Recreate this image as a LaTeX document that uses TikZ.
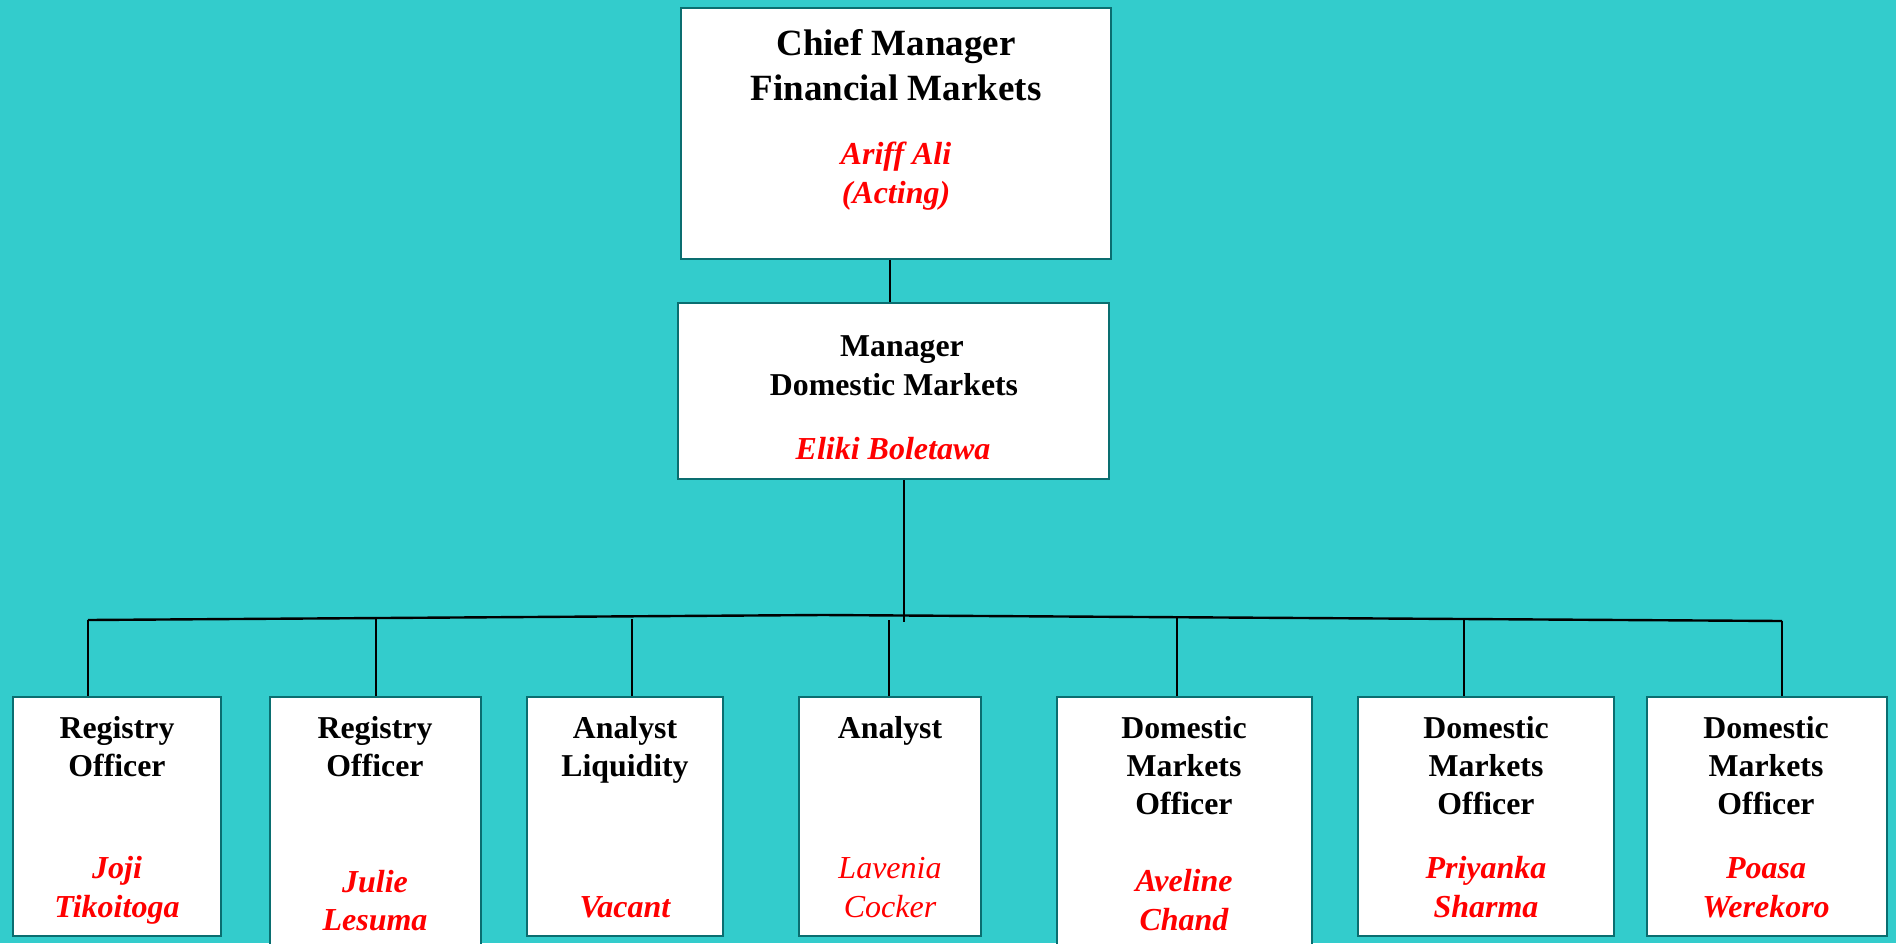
\documentclass[tikz,border=0pt]{standalone}
\usepackage{fontspec}
\setmainfont{Liberation Serif}
\definecolor{bg}{HTML}{33CCCC}
\definecolor{edge}{HTML}{0A6E70}
\definecolor{nred}{HTML}{FF0000}
\begin{document}
\begin{tikzpicture}[x=0.5pt,y=-0.5pt,
  box/.style={draw=edge,line width=1.4pt,fill=white,inner sep=0pt},
  ttl/.style={anchor=base,inner sep=0pt,font=\fontsize{15.9}{19}\selectfont\bfseries},
  big/.style={anchor=base,inner sep=0pt,font=\fontsize{18.5}{22}\selectfont\bfseries},
  nm/.style={anchor=base,inner sep=0pt,text=nred,font=\fontsize{16}{19}\selectfont\bfseries\itshape},
  nmplain/.style={anchor=base,inner sep=0pt,text=nred,font=\fontsize{16}{19}\selectfont\itshape},
  conn/.style={draw=black,line width=1.2pt}]
\useasboundingbox[fill=bg] (0,0) rectangle (1896,943);

% boxes
\node[box,minimum width=215pt,minimum height=125.5pt] (chief) at (896,133.5) {};
\node[box,minimum width=215.5pt,minimum height=88pt] (mgr) at (893.5,391) {};
\node[box,minimum width=104pt,minimum height=119.5pt] (b1) at (117,816.5) {};
\node[box,minimum width=105.5pt,minimum height=144pt] (b2) at (375.5,841) {};
\node[box,minimum width=98pt,minimum height=119.5pt] (b3) at (625,816.5) {};
\node[box,minimum width=91pt,minimum height=119.5pt] (b4) at (890,816.5) {};
\node[box,minimum width=127.5pt,minimum height=144pt] (b5) at (1184.5,841) {};
\node[box,minimum width=128pt,minimum height=119.5pt] (b6) at (1486,816.5) {};
\node[box,minimum width=120pt,minimum height=119.5pt] (b7) at (1767,816.5) {};

% connectors
\draw[conn] (890,0 |- chief.south) -- (890,0 |- mgr.north);
\coordinate (busL) at (88,620);
\coordinate (busM) at (823,615);
\coordinate (busR) at (1782,621);
\coordinate (drop) at (904,622);
\draw[conn] (busL) -- (busM) -- (busR);
\draw[conn] (904,0 |- mgr.south) -- (drop);
\draw[conn] (busL) -- (88,0 |- b1.north);
\draw[conn] (376,619) -- (376,0 |- b2.north);
\draw[conn] (632,619) -- (632,0 |- b3.north);
\draw[conn] (889,620) -- (889,0 |- b4.north);
\draw[conn] (1177,617) -- (1177,0 |- b5.north);
\draw[conn] (1464,619) -- (1464,0 |- b6.north);
\draw[conn] (busR) -- (1782,0 |- b7.north);

% chief text
\node[big] (c1) at (896,55) {Chief Manager};
\node[big] (c2) at (896,100) {Financial Markets};
\node[nm] (c3) at (896,164) {Ariff Ali};
\node[nm] (c4) at (896,203) {(Acting)};
% manager text
\node[ttl] (m1) at (902,356) {Manager};
\node[ttl] (m2) at (894,395) {Domestic Markets};
\node[nm] (m3) at (893,459) {Eliki Boletawa};
% b1
\node[ttl] (t11) at (117,738) {Registry};
\node[ttl] (t12) at (117,776) {Officer};
\node[nm] (n11) at (117,878) {Joji};
\node[nm] (n12) at (117,917) {Tikoitoga};
% b2
\node[ttl] (t21) at (375,738) {Registry};
\node[ttl] (t22) at (375,776) {Officer};
\node[nm] (n21) at (375,892) {Julie};
\node[nm] (n22) at (375,930) {Lesuma};
% b3
\node[ttl] (t31) at (625,738) {Analyst};
\node[ttl] (t32) at (625,776) {Liquidity};
\node[nm] (n31) at (625,917) {Vacant};
% b4
\node[ttl] (t41) at (890,738) {Analyst};
\node[nmplain] (n41) at (890,878) {Lavenia};
\node[nmplain] (n42) at (890,917) {Cocker};
% b5
\node[ttl] (t51) at (1184,738) {Domestic};
\node[ttl] (t52) at (1184,776) {Markets};
\node[ttl] (t53) at (1184,814) {Officer};
\node[nm] (n51) at (1184,891) {Aveline};
\node[nm] (n52) at (1184,930) {Chand};
% b6
\node[ttl] (t61) at (1486,738) {Domestic};
\node[ttl] (t62) at (1486,776) {Markets};
\node[ttl] (t63) at (1486,814) {Officer};
\node[nm] (n61) at (1486,878) {Priyanka};
\node[nm] (n62) at (1486,917) {Sharma};
% b7
\node[ttl] (t71) at (1766,738) {Domestic};
\node[ttl] (t72) at (1766,776) {Markets};
\node[ttl] (t73) at (1766,814) {Officer};
\node[nm] (n71) at (1766,878) {Poasa};
\node[nm] (n72) at (1766,917) {Werekoro};
\end{tikzpicture}
\end{document}
